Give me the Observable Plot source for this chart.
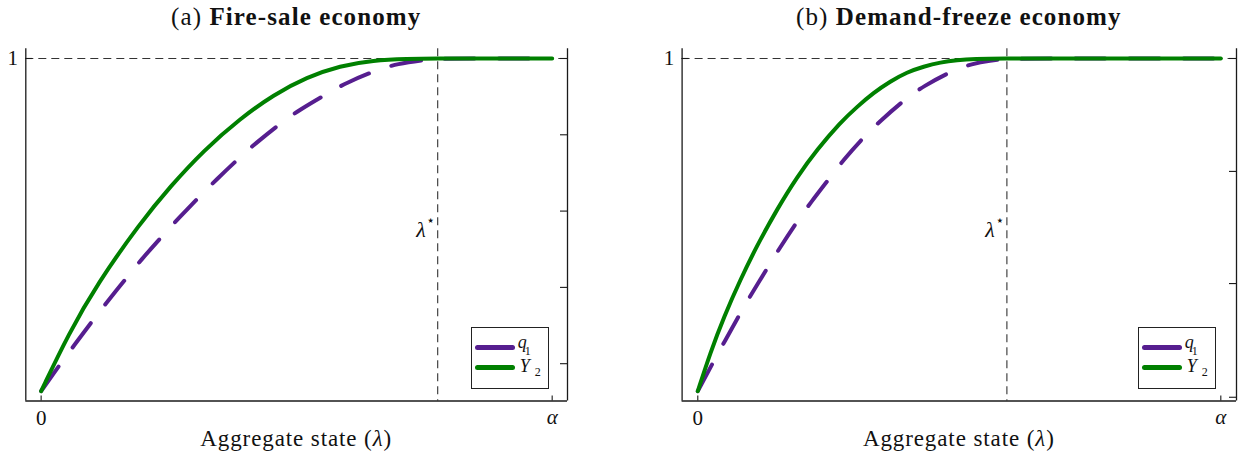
<!DOCTYPE html>
<html>
<head>
<meta charset="utf-8">
<script src="https://cdn.jsdelivr.net/npm/d3@7"></script>
<script src="https://cdn.jsdelivr.net/npm/@observablehq/plot@0.6"></script>
<style>
  html, body { margin: 0; padding: 0; background: #fff; }
  body { font-family: "Liberation Serif", "DejaVu Serif", serif; color: #111; }
  #wrap { position: relative; width: 1241px; height: 457px; overflow: hidden; background: #fff; }
  .panel { position: absolute; top: 0; }
  .title { position: absolute; top: 3px; font-size: 25px; letter-spacing: 1.1px; white-space: nowrap; transform: translateX(-50%); line-height: 1.1; }
  .title b { font-weight: bold; }
  .xlabel { position: absolute; top: 426px; font-size: 23px; letter-spacing: 0.9px; white-space: nowrap; transform: translateX(-50%); line-height: 1.1; }
  .legend { position: absolute; box-sizing: border-box; border: 1.3px solid #222; background: #fff; }
  .sw { position: absolute; height: 5px; width: 40px; border-radius: 2.5px; }
  .lt { position: absolute; line-height: 1; font-style: italic; white-space: nowrap; }
  .sub { position: absolute; line-height: 1; white-space: nowrap; }
</style>
</head>
<body>
<div id="wrap"></div>
<script>
// ---------- data ----------
const panelTags = ["(a)", "(b)"];
const panelTitles = ["Fire-sale economy", "Demand-freeze economy"];
const xAxisLabel = "Aggregate state";
const seriesNames = ["q", "Y"];
const seriesSubs = ["1", "2"];

const xTicks = [0, 1];
const xTickLabels = ["0", "α"];
const yLeftTicks = [1];
const yLeftTickLabels = ["1"];

// (a) Fire-sale economy
const fireY2X = [0, 0.054, 0.110, 0.194, 0.253, 0.318, 0.390, 0.455, 0.520, 0.585, 0.650, 0.716, 0.776, 0.85, 1];
const fireY2  = [0.128, 0.279, 0.410, 0.569, 0.665, 0.759, 0.843, 0.905, 0.951, 0.981, 0.995, 0.999, 1, 1, 1];
const fireQ1X = [0, 0.038, 0.064, 0.103, 0.129, 0.168, 0.194, 0.240, 0.266, 0.312, 0.341, 0.388, 0.419, 0.471, 0.504, 0.561, 0.595, 0.657, 0.696, 0.755, 0.776, 0.85, 1];
const fireQ1  = [0.128, 0.200, 0.247, 0.317, 0.362, 0.426, 0.470, 0.539, 0.577, 0.641, 0.680, 0.740, 0.777, 0.833, 0.864, 0.909, 0.935, 0.970, 0.986, 0.997, 1, 1, 1];
const fireLambdaStar = 0.776;
const fireRightTicks = [1, 0.8, 0.6, 0.4, 0.2];

// (b) Demand-freeze economy
const freezeY2X = [0, 0.024, 0.050, 0.082, 0.113, 0.152, 0.190, 0.228, 0.273, 0.305, 0.336, 0.368, 0.400, 0.432, 0.464, 0.496, 0.527, 0.591, 0.65, 1];
const freezeY2  = [0.128, 0.229, 0.323, 0.422, 0.509, 0.606, 0.690, 0.761, 0.833, 0.874, 0.910, 0.940, 0.964, 0.979, 0.990, 0.996, 0.999, 1, 1, 1];
const freezeQ1X = [0, 0.031, 0.050, 0.082, 0.101, 0.136, 0.155, 0.191, 0.214, 0.254, 0.278, 0.311, 0.349, 0.399, 0.431, 0.488, 0.524, 0.559, 0.591, 0.65, 1];
const freezeQ1  = [0.128, 0.208, 0.255, 0.334, 0.379, 0.457, 0.500, 0.575, 0.619, 0.690, 0.733, 0.785, 0.837, 0.896, 0.927, 0.969, 0.986, 0.995, 0.999, 1, 1];
const freezeLambdaStar = 0.591;
const freezeRightTicks = [1, 0.704, 0.41, 0.112];

// ---------- styles ----------
const xDomain = [-0.03, 1.03];
const yDomain = [0.1022, 1.0254];
const PURPLE = "#561e8f";
const GREEN = "#008000";
const AXIS = "#1a1a1a";
const REF = "#333333";
const FONT = "Liberation Serif";

const panels = [
  { left: 0,   width: 600, mLeft: 25.3, mRight: 33,
    y2x: fireY2X, y2: fireY2, q1x: fireQ1X, q1: fireQ1, star: fireLambdaStar, rticks: fireRightTicks,
    legendLeft: 470.7, titleCenter: 296.2 },
  { left: 620, width: 621, mLeft: 61.6, mRight: 5,
    y2x: freezeY2X, y2: freezeY2, q1x: freezeQ1X, q1: freezeQ1, star: freezeLambdaStar, rticks: freezeRightTicks,
    legendLeft: 1137.7, titleCenter: 958.8 }
];

const wrap = document.getElementById("wrap");

panels.forEach((p, k) => {
  const q1Data = p.q1x.map((x, i) => ({x, y: p.q1[i]}));
  const y2Data = p.y2x.map((x, i) => ({x, y: p.y2[i]}));
  const xt = xTicks.map((v, i) => ({v, label: xTickLabels[i]}));

  const chart = Plot.plot({
    width: p.width,
    height: 457,
    marginLeft: p.mLeft,
    marginRight: p.mRight,
    marginTop: 48.3,
    marginBottom: 56.5,
    x: {domain: xDomain, axis: null},
    y: {domain: yDomain, axis: null},
    style: {fontFamily: FONT, background: "transparent", overflow: "visible"},
    marks: [
      // reference lines
      Plot.ruleY([1], {stroke: REF, strokeWidth: 1.1, strokeDasharray: "8,5"}),
      Plot.ruleX([p.star], {stroke: REF, strokeWidth: 1.1, strokeDasharray: "8,5"}),
      // series
      Plot.line(q1Data, {x: "x", y: "y", stroke: PURPLE, strokeWidth: 4, strokeDasharray: "30,24",
        strokeLinecap: "round", strokeLinejoin: "round", curve: "basis"}),
      Plot.line(y2Data, {x: "x", y: "y", stroke: GREEN, strokeWidth: 4,
        strokeLinecap: "round", strokeLinejoin: "round", curve: "basis"}),
      // axis lines (left, right, bottom)
      Plot.ruleX([xDomain[0], xDomain[1]], {stroke: AXIS, strokeWidth: 1.3}),
      Plot.ruleY([yDomain[0]], {stroke: AXIS, strokeWidth: 1.3}),
      // inward ticks
      Plot.ruleY(yLeftTicks, {x1: xDomain[0], x2: xDomain[0], insetRight: -7, stroke: AXIS, strokeWidth: 1.1}),
      Plot.ruleY(p.rticks, {x1: xDomain[1], x2: xDomain[1], insetLeft: -7, stroke: AXIS, strokeWidth: 1.1}),
      Plot.ruleX(xTicks, {y1: yDomain[0], y2: yDomain[0], insetBottom: 5, stroke: AXIS, strokeWidth: 1.1}),
      // tick labels
      Plot.text(yLeftTicks, {x: xDomain[0], y: d => d, text: (d, i) => yLeftTickLabels[i], dx: -13,
        fontSize: 21, textAnchor: "middle", fill: "#111"}),
      Plot.text(xt.filter(d => d.v === 0), {x: "v", y: yDomain[0], text: "label", dy: 17.5,
        fontSize: 21, textAnchor: "middle", fill: "#111"}),
      Plot.text(xt.filter(d => d.v !== 0), {x: "v", y: yDomain[0], text: "label", dy: 16,
        fontSize: 21, fontStyle: "italic", textAnchor: "middle", fill: "#111"}),
      // lambda-star annotation
      Plot.text([p.star], {x: d => d, frameAnchor: "middle", text: () => "λ", dx: -12, dy: 5,
        fontSize: 22, fontStyle: "italic", textAnchor: "end", fill: "#111"}),
      Plot.text([p.star], {x: d => d, frameAnchor: "middle", text: () => "⋆", dx: -7, dy: -4,
        fontSize: 14, fontFamily: "DejaVu Sans", textAnchor: "middle", fill: "#111"})
    ]
  });
  chart.classList.add("panel");
  chart.style.left = p.left + "px";
  wrap.appendChild(chart);

  // title
  const t = document.createElement("div");
  t.className = "title";
  t.style.left = p.titleCenter + "px";
  t.innerHTML = `${panelTags[k]} <b>${panelTitles[k]}</b>`;
  wrap.appendChild(t);

  // x axis label
  const xl = document.createElement("div");
  xl.className = "xlabel";
  xl.style.left = p.titleCenter + "px";
  xl.innerHTML = `${xAxisLabel} (<i>λ</i>)`;
  wrap.appendChild(xl);

  // legend
  const lg = document.createElement("div");
  lg.className = "legend";
  lg.style.left = p.legendLeft + "px";
  lg.style.top = "327.3px";
  lg.style.width = "78.6px";
  lg.style.height = "61.7px";
  const colors = [PURPLE, GREEN];
  const swTop = [16.6, 37.2];
  const ltTop = [4.3, 29];
  const ltLeft = [46, 48];
  const subTop = [16.9, 37.9];
  const subLeft = [53, 63];
  seriesNames.forEach((n, i) => {
    const sw = document.createElement("div");
    sw.className = "sw";
    sw.style.left = "3px";
    sw.style.top = swTop[i] + "px";
    sw.style.background = colors[i];
    lg.appendChild(sw);
    const lt = document.createElement("div");
    lt.className = "lt";
    lt.style.fontSize = "18px";
    lt.style.left = ltLeft[i] + "px";
    lt.style.top = ltTop[i] + "px";
    lt.textContent = n;
    lg.appendChild(lt);
    const sb = document.createElement("div");
    sb.className = "sub";
    sb.style.fontSize = "12px";
    sb.style.left = subLeft[i] + "px";
    sb.style.top = subTop[i] + "px";
    sb.textContent = seriesSubs[i];
    lg.appendChild(sb);
  });
  wrap.appendChild(lg);
});
</script>
</body>
</html>
